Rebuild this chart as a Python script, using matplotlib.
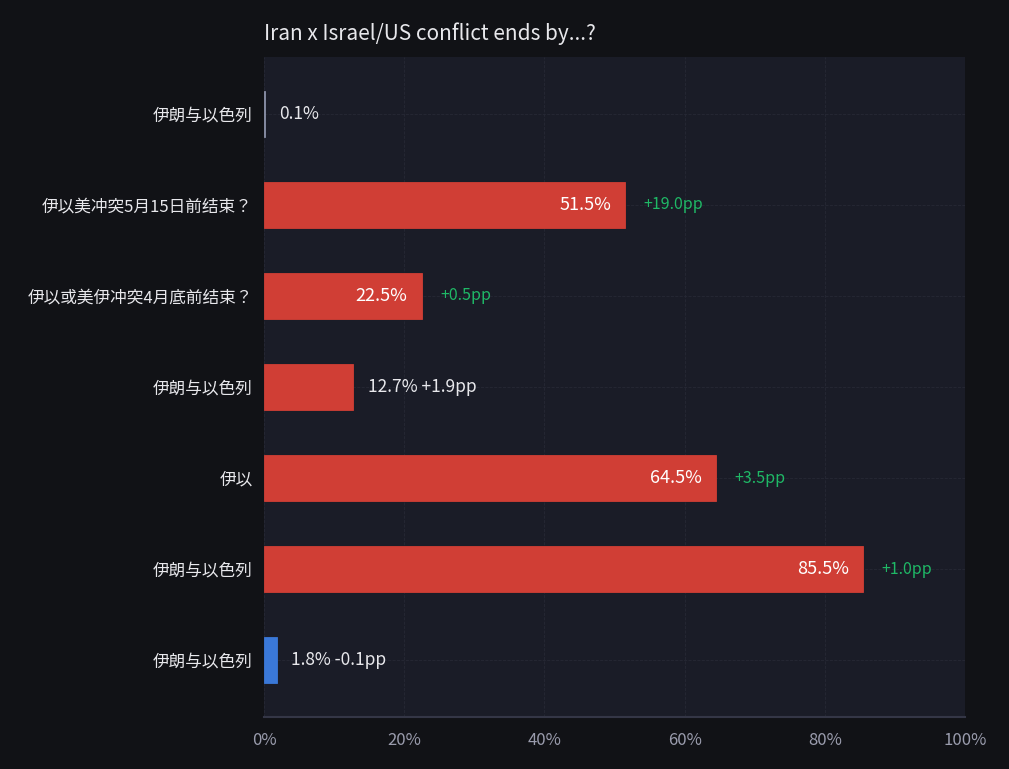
import matplotlib.pyplot as plt
import numpy as np

plt.rcParams['font.family'] = ['Noto Sans CJK JP', 'DejaVu Sans']

labels = ['伊朗与以色列', '伊以美冲突5月15日前结束？', '伊以或美伊冲突4月底前结束？',
          '伊朗与以色列', '伊以', '伊朗与以色列', '伊朗与以色列']
values = [0.1, 51.5, 22.5, 12.7, 64.5, 85.5, 1.8]
deltas = ['', '+19.0pp', '+0.5pp', '+1.9pp', '+3.5pp', '+1.0pp', '-0.1pp']
colors = ['#8b91a8', '#d03e35', '#d03e35', '#d03e35', '#d03e35', '#d03e35', '#3a78d8']
xticks = [0, 20, 40, 60, 80, 100]

bg = '#111216'
axbg = '#1a1c27'
txt = '#e8e8ec'
grey = '#9a9cad'
green = '#1fb866'

fig = plt.figure(figsize=(10.09, 7.69), dpi=100, facecolor=bg)
ax = fig.add_axes([0.2616, 0.0676, 0.6948, 0.8583])
ax.set_facecolor(axbg)

y = np.arange(len(values))
ax.barh(y, values, height=0.5, color=colors, edgecolor=colors, linewidth=0.6, zorder=3)

for i, v in enumerate(values):
    if v >= 20:
        ax.text(v - 2, i, f'{v:.1f}%', ha='right', va='center', color='white',
                fontsize=13, zorder=4)
        ax.text(v + 2.6, i, deltas[i], ha='left', va='center', color=green,
                fontsize=11.5, zorder=4)
    else:
        s = f'{v:.1f}%' + (' ' + deltas[i] if deltas[i] else '')
        ax.text(v + 2.1, i, s, ha='left', va='center', color=txt,
                fontsize=12.5, zorder=4)

ax.set_xlim(0, 100)
ax.set_ylim(len(values) - 0.375, -0.625)
ax.set_yticks(y)
ax.set_yticklabels(labels, color=txt, fontsize=12)
ax.set_xticks(xticks)
ax.set_xticklabels([f'{t}%' for t in xticks], color=grey, fontsize=12)
ax.tick_params(axis='x', length=0, pad=11)
ax.tick_params(axis='y', length=0, pad=8)

ax.grid(True, color='#262835', linestyle='--', linewidth=0.6, zorder=0)
for s in ['top', 'right', 'left']:
    ax.spines[s].set_visible(False)
ax.spines['bottom'].set_color('#343646')
ax.spines['bottom'].set_linewidth(1.5)

ax.set_title('Iran x Israel/US conflict ends by...?', loc='left', color=txt,
             fontsize=15, pad=12)

fig.savefig('out.png', dpi=100, facecolor=bg)
